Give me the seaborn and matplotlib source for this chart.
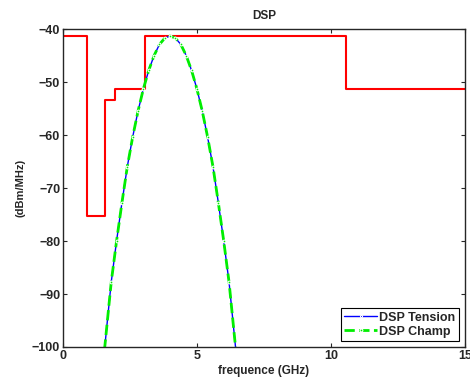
"""
DSP plot: UWB mask vs pulse spectrum (MATLAB-like look).
"""

import matplotlib
matplotlib.use("Agg")
import matplotlib.pyplot as plt
import seaborn as sns

# FCC-like mask (step levels)
mask_freq = [0, 0.88, 1.58, 1.96, 3.08, 10.58, 15]
mask_dbm = [-41.3, -75.3, -53.3, -51.3, -41.3, -51.3, -51.3]

# pulse spectrum, same for both series
spec_freq = [1.55, 1.80, 2.00, 2.20, 2.40, 2.60, 2.80, 3.00, 3.20, 3.40, 3.60,
             3.80, 4.00, 4.20, 4.40, 4.60, 4.80, 5.00, 5.20, 5.40, 5.60, 5.80,
             6.00, 6.20, 6.45]
spec_tension = [-100.5, -87.8, -80.0, -72.8, -66.0, -60.4, -55.5, -51.3, -47.8,
                -45.0, -42.9, -41.7, -41.3, -41.7, -42.9, -45.0, -47.8, -51.3,
                -55.5, -60.4, -66.0, -72.8, -80.0, -87.8, -100.5]
spec_champ = list(spec_tension)

sns.set_style("ticks")
plt.rcParams["font.family"] = ["Liberation Sans", "DejaVu Sans"]
plt.rcParams["font.weight"] = "bold"

fig = plt.figure(figsize=(4.7, 3.83), dpi=100)
ax = fig.add_axes([0.134, 0.094, 0.855, 0.830])

sns.lineplot(x=mask_freq, y=mask_dbm, ax=ax, color="#ff0000", linewidth=1.5,
             drawstyle="steps-post", estimator=None, sort=False)
l1 = sns.lineplot(x=spec_freq, y=spec_tension, ax=ax, color="#0000ff",
                  linewidth=1.0, marker=".", markersize=3, estimator=None,
                  sort=False).lines[-1]
l2 = sns.lineplot(x=spec_freq, y=spec_champ, ax=ax, color="#00ee00",
                  linewidth=2.0, linestyle="--", marker=".", markersize=4,
                  estimator=None, sort=False).lines[-1]

ax.set_xlim(0, 15)
ax.set_ylim(-100, -40)
ax.set_xticks([0, 5, 10, 15])
ax.set_yticks([-100, -90, -80, -70, -60, -50, -40])
ax.tick_params(direction="in", top=True, right=True, length=3, width=0.8,
               labelsize=9, pad=2)
for lab in ax.get_xticklabels() + ax.get_yticklabels():
    lab.set_fontweight("bold")
for sp in ax.spines.values():
    sp.set_linewidth(1.0)
    sp.set_visible(True)

ax.set_title("DSP", fontsize=8.5, fontweight="bold", pad=7)
ax.set_xlabel("frequence (GHz)", fontsize=8.5, fontweight="bold", labelpad=2)
ax.set_ylabel("(dBm/MHz)", fontsize=8, fontweight="bold", labelpad=5)

leg = ax.legend([l1, l2], ["DSP Tension", "DSP Champ"], loc="lower right",
                fontsize=9, frameon=True, fancybox=False, framealpha=1,
                edgecolor="black", borderpad=0.3, handlelength=2.6,
                handletextpad=0.2, labelspacing=0.15, borderaxespad=0.45)
leg.get_frame().set_linewidth(0.8)
for t in leg.get_texts():
    t.set_fontweight("bold")

fig.savefig("out.png", dpi=100)
plt.close(fig)
